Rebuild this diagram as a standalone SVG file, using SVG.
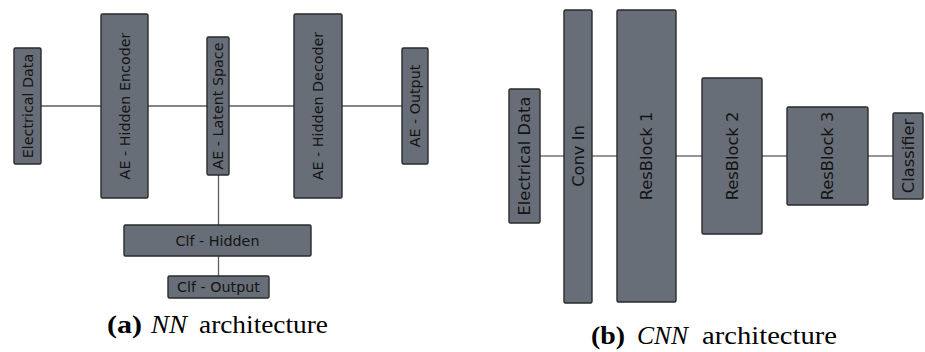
<svg xmlns="http://www.w3.org/2000/svg" width="925" height="352" viewBox="0 0 925 352">
<style>
.box{fill:#686e78;stroke:#2a2a2a;stroke-width:1.4}
.lbl{font-family:"DejaVu Sans",Verdana,sans-serif;fill:#141414;text-anchor:middle;dominant-baseline:central}
.s{font-size:14.3px}
.b{font-size:16.3px}
.con line{stroke:#5a5d62;stroke-width:1.3}
.cap{font-family:"Liberation Serif","Times New Roman",serif;font-size:25px;fill:#000}
</style>
<rect width="925" height="352" fill="#fff"/>
<g id="connectors" class="con">
<line x1="41" y1="106" x2="101" y2="106"/>
<line x1="148" y1="106" x2="207" y2="106"/>
<line x1="229" y1="106" x2="294" y2="106"/>
<line x1="342" y1="106" x2="402" y2="106"/>
<line x1="218.5" y1="175" x2="218.5" y2="225"/>
<line x1="218.5" y1="256" x2="218.5" y2="276"/>
<line x1="540" y1="156" x2="564" y2="156"/>
<line x1="592" y1="156" x2="617" y2="156"/>
<line x1="676" y1="156" x2="702" y2="156"/>
<line x1="762" y1="156" x2="787" y2="156"/>
<line x1="868" y1="156" x2="893" y2="156"/>
</g>
<g id="nn-electrical"><rect class="box" x="14" y="48" width="27" height="116" rx="1.5"/><text class="lbl s" transform="translate(27.5,106) rotate(-90)">Electrical Data</text></g>
<g id="nn-encoder"><rect class="box" x="101" y="14" width="47" height="184" rx="1.5"/><text class="lbl s" transform="translate(124.5,106) rotate(-90)">AE - Hidden Encoder</text></g>
<g id="nn-latent"><rect class="box" x="207" y="37" width="22" height="138" rx="1.5"/><text class="lbl s" transform="translate(218,106) rotate(-90)">AE - Latent Space</text></g>
<g id="nn-decoder"><rect class="box" x="294" y="14" width="48" height="184" rx="1.5"/><text class="lbl s" transform="translate(318,106) rotate(-90)">AE - Hidden Decoder</text></g>
<g id="nn-output"><rect class="box" x="402" y="48" width="26" height="116" rx="1.5"/><text class="lbl s" transform="translate(415,106) rotate(-90)">AE - Output</text></g>
<g id="nn-clf-hidden"><rect class="box" x="124" y="225" width="187" height="31" rx="1.5"/><text class="lbl s" x="217.5" y="240.5">Clf - Hidden</text></g>
<g id="nn-clf-output"><rect class="box" x="168" y="276" width="101" height="22" rx="1.5"/><text class="lbl s" x="218.5" y="287">Clf - Output</text></g>
<g id="cnn-electrical"><rect class="box" x="509" y="89" width="31" height="134" rx="1.5"/><text class="lbl b" transform="translate(524.5,156) rotate(-90)">Electrical Data</text></g>
<g id="cnn-convin"><rect class="box" x="564" y="10" width="28" height="293" rx="1.5"/><text class="lbl b" transform="translate(578,156) rotate(-90)">Conv In</text></g>
<g id="cnn-res1"><rect class="box" x="617" y="10" width="59" height="292" rx="1.5"/><text class="lbl b" transform="translate(646.5,156) rotate(-90)">ResBlock 1</text></g>
<g id="cnn-res2"><rect class="box" x="702" y="78" width="60" height="156" rx="1.5"/><text class="lbl b" transform="translate(732,156) rotate(-90)">ResBlock 2</text></g>
<g id="cnn-res3"><rect class="box" x="787" y="107" width="81" height="98" rx="1.5"/><text class="lbl b" transform="translate(827.5,156) rotate(-90)">ResBlock 3</text></g>
<g id="cnn-classifier"><rect class="box" x="893" y="113" width="30" height="86" rx="1.5"/><text class="lbl b" transform="translate(908,156) rotate(-90)">Classifier</text></g>
<g id="caption-a">
<text class="cap" x="107" y="333" font-weight="bold" textLength="35" lengthAdjust="spacingAndGlyphs">(a)</text>
<text class="cap" x="151" y="333" font-style="italic" textLength="36" lengthAdjust="spacingAndGlyphs">NN</text>
<text class="cap" x="199" y="333" textLength="129" lengthAdjust="spacingAndGlyphs">architecture</text>
</g>
<g id="caption-b">
<text class="cap" x="591" y="344" font-weight="bold" textLength="34" lengthAdjust="spacingAndGlyphs">(b)</text>
<text class="cap" x="637" y="344" font-style="italic" textLength="51" lengthAdjust="spacingAndGlyphs">CNN</text>
<text class="cap" x="702" y="344" textLength="135" lengthAdjust="spacingAndGlyphs">architecture</text>
</g>
</svg>
